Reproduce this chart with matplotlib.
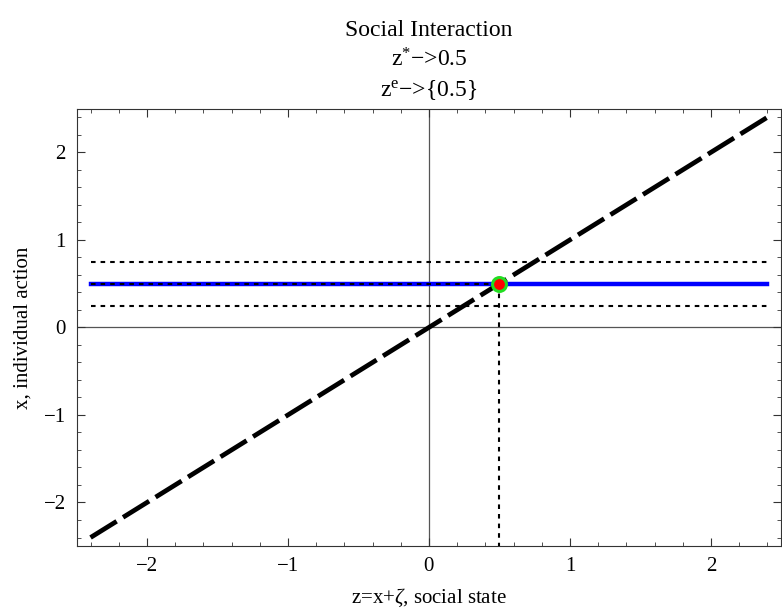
import numpy as np
import matplotlib
matplotlib.use("Agg")
import matplotlib.pyplot as plt
from matplotlib.ticker import MultipleLocator

plt.rcParams['font.family'] = ['Liberation Serif', 'DejaVu Serif']
plt.rcParams['mathtext.fontset'] = 'custom'
plt.rcParams['mathtext.rm'] = 'Liberation Serif'
plt.rcParams['mathtext.it'] = 'Liberation Serif:italic'

# data
z_range = [-2.4, 2.4]
z_star = 0.5          # equilibrium social state
x_action = 0.5        # individual action (blue line)
band = [0.25, 0.75]   # dotted band around the action
ticks = [-2, -1, 0, 1, 2]

fig = plt.figure(figsize=(7.82, 6.12), dpi=100)
ax = fig.add_axes([0.0985, 0.108, 0.9, 0.714])

pad = 0.02 * (z_range[1] - z_range[0])
ax.set_xlim(z_range[0] - pad, z_range[1] + pad)
ax.set_ylim(z_range[0] - pad, z_range[1] + pad)

# axes through origin
ax.axhline(0, color="#555555", lw=0.9, zorder=1)
ax.axvline(0, color="#555555", lw=0.9, zorder=1)

# blue action line
ax.plot(z_range, [x_action, x_action], color="#0000ff", lw=3.2, zorder=2)
# dotted band
dot = (0, (2.2, 2.4))
for b in band:
    ax.plot(z_range, [b, b], color="black", lw=1.5, ls=dot, zorder=3)
ax.plot([z_range[0], z_star], [x_action, x_action], color="black", lw=1.5,
        ls=dot, zorder=3)
ax.plot([z_star, z_star], [x_action, z_range[0] - pad], color="black", lw=1.5,
        ls=dot, zorder=3)

# 45 degree line z = x
ax.plot(z_range, z_range, color="black", lw=3.4, ls=(0, (6.5, 1.6)), zorder=4)

# equilibrium point
ax.plot([z_star], [x_action], "o", ms=10, mfc="red", mec="#22dd22", mew=2.2, zorder=5)

ax.xaxis.set_major_locator(MultipleLocator(1))
ax.yaxis.set_major_locator(MultipleLocator(1))
ax.xaxis.set_minor_locator(MultipleLocator(0.2))
ax.yaxis.set_minor_locator(MultipleLocator(0.2))
ax.tick_params(which="both", direction="in", top=True, right=True,
               labelsize=15, color="#333333")
ax.tick_params(which="major", length=6, width=0.8, pad=8)
ax.tick_params(which="minor", length=3, width=0.6)
ax.set_xticks(ticks)
ax.set_yticks(ticks)
ax.set_xticklabels([str(t).replace("-", "\u2212") for t in ticks])
ax.set_yticklabels([str(t).replace("-", "\u2212") for t in ticks])
for s in ax.spines.values():
    s.set_linewidth(0.8)
    s.set_color("#333333")

ax.set_xlabel(r"z=x+$\zeta$, social state", fontsize=15, labelpad=8)
ax.set_ylabel("x, individual action", fontsize=15, labelpad=8)
ax.set_title("Social Interaction\n" + "z$^{*}$\u2212>0.5\n" + "z$^{\\mathrm{e}}$\u2212>{0.5}",
             fontsize=17, linespacing=1.4, pad=9)

fig.savefig("out.png", dpi=100)
